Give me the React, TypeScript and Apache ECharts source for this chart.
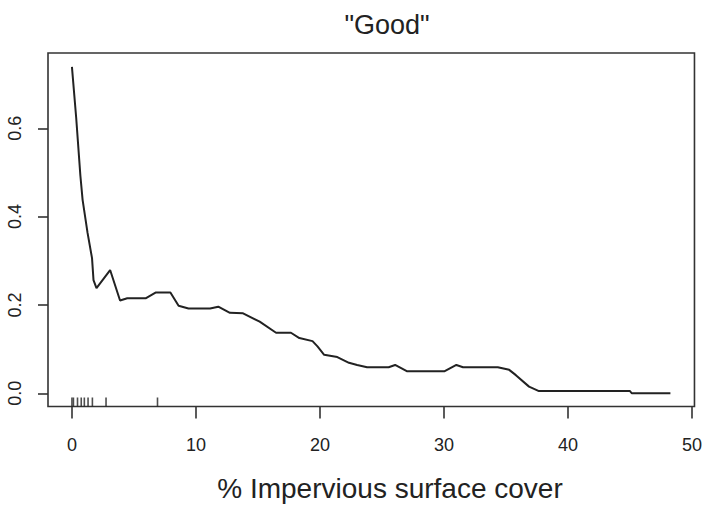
import React, { useEffect, useRef } from "react";
import * as echarts from "echarts";

// Partial dependence of the "Good" class on impervious surface cover
const impervX = [
  0, 0.34, 0.68, 0.86, 1.26, 1.62, 1.74, 1.98, 3.08, 3.88, 4.46, 5.94, 6.74, 7.94,
  8.6, 9.4, 11.14, 11.8, 12.74, 13.8, 15.14, 16.46, 17.66, 18.34, 19.4, 19.8,
  20.34, 21.4, 22.34, 23.0, 23.8, 25.54, 26.06, 27.0, 30.06, 31.0, 31.54, 34.34,
  35.26, 35.8, 36.86, 37.66, 45.0, 45.14, 48.26,
];
const goodValue = [
  0.739, 0.625, 0.493, 0.438, 0.363, 0.306, 0.256, 0.238, 0.279, 0.21, 0.215,
  0.215, 0.228, 0.228, 0.198, 0.192, 0.192, 0.196, 0.182, 0.181, 0.162, 0.137,
  0.137, 0.125, 0.118, 0.106, 0.087, 0.082, 0.069, 0.064, 0.059, 0.059, 0.064,
  0.05, 0.05, 0.064, 0.059, 0.059, 0.053, 0.041, 0.015, 0.005, 0.005, 0.0, 0.0,
];
// Observed predictor values shown as a rug along the bottom
const rugX = [0, 0.12, 0.45, 0.75, 1.0, 1.3, 1.65, 2.75, 6.9];

const xTicks = [0, 10, 20, 30, 40, 50];
const yTicks = [0, 0.2, 0.4, 0.6];

const X_MIN = -1.93;
const X_MAX = 50.2;
const Y_MIN = -0.03;
const Y_MAX = 0.7704;

const FONT = "'Liberation Sans', Arial, Helvetica, sans-serif";
const INK = "#222";

export default function App() {
  const ref = useRef<HTMLDivElement>(null);

  useEffect(() => {
    document.body.style.margin = "0";
    if (!ref.current) return;
    const chart = echarts.init(ref.current, null, { renderer: "svg" });

    const curve = impervX.map((x, i) => [x, goodValue[i]]);
    const rug = rugX.map((x) => [x, Y_MIN]);

    chart.setOption({
      animation: false,
      backgroundColor: "#fff",
      grid: {
        left: 48,
        right: 5,
        top: 53,
        bottom: 99.5,
        show: true,
        borderColor: "#333",
        borderWidth: 1.6,
        backgroundColor: "transparent",
      },
      xAxis: {
        type: "value",
        min: X_MIN,
        max: X_MAX,
        axisLine: { show: false, onZero: false },
        splitLine: { show: false },
        axisTick: {
          show: true,
          length: 12,
          customValues: xTicks,
          lineStyle: { color: "#333", width: 1.6 },
        },
        axisLabel: {
          customValues: xTicks,
          margin: 29,
          fontFamily: FONT,
          fontSize: 18,
          color: INK,
          formatter: (v: number) => String(v),
        },
      },
      yAxis: {
        type: "value",
        min: Y_MIN,
        max: Y_MAX,
        axisLine: { show: false, onZero: false },
        splitLine: { show: false },
        axisTick: {
          show: true,
          length: 10,
          customValues: yTicks,
          lineStyle: { color: "#333", width: 1.6 },
        },
        axisLabel: {
          customValues: yTicks,
          rotate: 90,
          margin: 24,
          fontFamily: FONT,
          fontSize: 18,
          color: INK,
          formatter: (v: number) => v.toFixed(1),
        },
      },
      graphic: [
        {
          type: "text",
          x: 387,
          y: 25,
          style: {
            text: '"Good"',
            fontFamily: FONT,
            fontSize: 27,
            fill: INK,
            textAlign: "center",
            textVerticalAlign: "middle",
          },
        },
        {
          type: "text",
          x: 390,
          y: 488,
          style: {
            text: "% Impervious surface cover",
            fontFamily: FONT,
            fontSize: 28,
            fill: INK,
            textAlign: "center",
            textVerticalAlign: "middle",
          },
        },
      ],
      series: [
        {
          type: "line",
          data: curve,
          showSymbol: false,
          lineStyle: { color: INK, width: 2 },
          z: 3,
        },
        {
          type: "scatter",
          data: rug,
          symbol: "rect",
          symbolSize: [1.6, 9],
          symbolOffset: [0, -4.5],
          clip: false,
          itemStyle: { color: INK },
          z: 4,
        },
      ],
    });

    return () => chart.dispose();
  }, []);

  return (
    <div
      ref={ref}
      style={{ position: "absolute", left: 0, top: 0, width: 705, height: 506 }}
    />
  );
}
